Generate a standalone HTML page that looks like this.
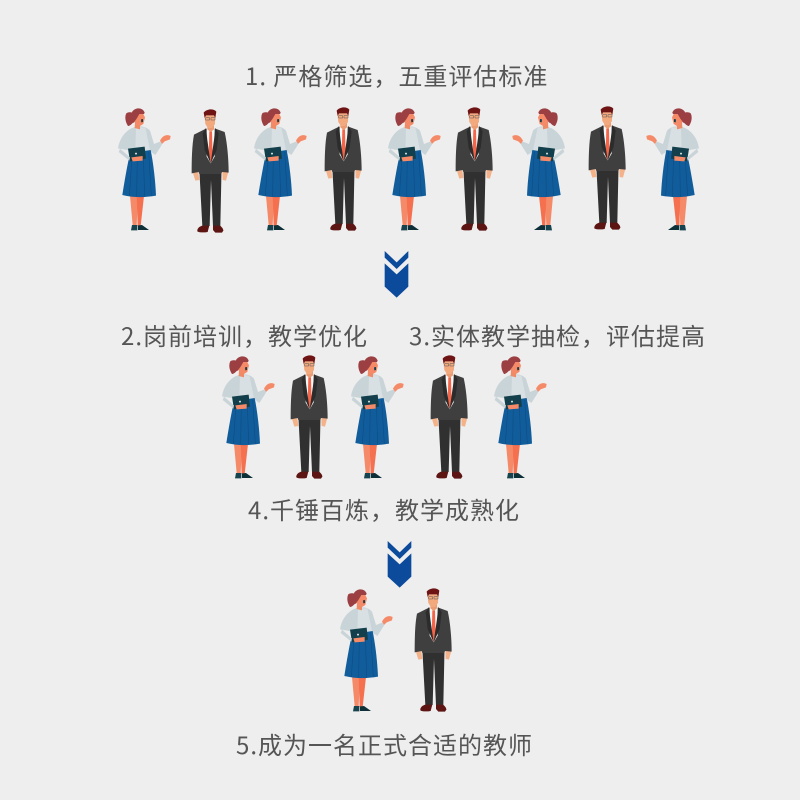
<!DOCTYPE html>
<html><head><meta charset="utf-8">
<style>
html,body{margin:0;padding:0;background:#eeeeee}
#p{position:relative;width:800px;height:800px;overflow:hidden;background:#eeeeee}
.t{position:absolute;white-space:pre;font-size:24px;letter-spacing:1px;line-height:32px;color:#555;font-family:"Noto Sans CJK SC",sans-serif}
svg{position:absolute;left:0;top:0}
</style></head><body><div id="p">
<svg width="800" height="800" viewBox="0 0 800 800">
<defs>
<g id="w" transform="translate(110,100) scale(.3333)">
<path d="M60 288H84L80 375H68Z" fill="#f58a68"/>
<path d="M80 288H102L92 378H83Z" fill="#f4704f"/>
<path d="M66 375H82V391H63Z" fill="#17434f"/>
<path d="M84 376L96 375L117 390H84Z" fill="#0c2f38"/>
<path d="M150 122C158 106 170 102 182 108L180 118L164 124L156 132Z" fill="#f58a68"/>
<path d="M62 86C85 74 108 78 120 92L132 132L152 124L156 134L136 165L118 152H62L24 145C28 118 42 98 62 86Z" fill="#c9d4d8"/>
<path d="M78 82L106 82L120 150H76Z" fill="#d8e0e3"/>
<path d="M60 160L122 150C130 190 136 240 138 287C105 293 70 293 37 285C44 240 52 195 60 160Z" fill="#115d9c"/>
<path d="M66 168L58 288M82 165L80 290M100 160L104 290M116 155L124 288" stroke="#0d4e85" stroke-width="2" fill="none"/>
<path d="M54 146L104 140L108 176L60 184Z" fill="#123f4b"/>
<path d="M64 172L98 168L98 182L68 184Z" fill="#f58a68"/>
<path d="M30 146L60 172L58 182L26 156Z" fill="#c9d4d8"/>
<path d="M48 42C50 36 62 36 68 38L78 60L72 68C68 66 62 78 54 78C46 66 44 52 48 42Z" fill="#9c3f43"/>
<path d="M75 66L90 72L90 88L74 84Z" fill="#ee8a66"/>
<path d="M72 42H100L105 52L100 72L90 78L78 74L72 60Z" fill="#f58a68"/>
<path d="M93 58L99 57L99 66L94 67Z" fill="#123f4b"/>
<path d="M66 36C74 22 98 20 104 38L102 42L88 42L80 56L74 64L68 54Z" fill="#9c3f43"/>
<circle cx="78" cy="161" r="3" fill="#d8e0e3"/>
</g>
<g id="m" transform="translate(110,100) scale(.3333)">
<path d="M248 216H265L268 240L256 242Z" fill="#f4b28a"/>
<path d="M337 216H355L348 242L338 240Z" fill="#f4b28a"/>
<path d="M267 190H335L331 378H309L303 240L299 378H277Z" fill="#303030"/>
<path d="M262 390C264 382 272 378 278 377H298L293 396C282 398 268 398 262 394Z" fill="#5c1512"/>
<path d="M309 377H330C334 380 340 386 340 392L336 398H316L309 390Z" fill="#5c1512"/>
<path d="M252 104L288 86H316L344 96C352 130 356 180 356 218L336 216L334 222H268L266 216L245 220C245 180 246 135 252 104Z" fill="#3f3f3f"/>
<path d="M290 84H314V170L302 190L290 170Z" fill="#f7f7f7"/>
<path d="M298 94H306L308 175L302 188L296 175Z" fill="#f4664a"/>
<path d="M288 84L292 120L302 190L284 150L278 100Z" fill="#2c2c2c"/>
<path d="M316 84L312 120L302 190L320 150L326 100Z" fill="#2c2c2c"/>
<path d="M292 72H312V88L302 96L292 88Z" fill="#ec9c70"/>
<path d="M283 46L316 46L315 72L306 84H294L286 72Z" fill="#f2a97e"/>
<path d="M284 54L281 38C290 26 312 25 319 35L316 54L312 46H288Z" fill="#6e1414"/>
<path d="M287 53H299V60H287ZM303 53H315V60H303Z" fill="none" stroke="#555" stroke-width="1.5"/>
</g>
<g id="a" fill="#0c4a9c" transform="translate(370,245) scale(.3333)">
<path d="M44 18V38L80 72L115 38V18L80 52Z"/>
<path d="M44 55L80 88L115 55V125L80 158L44 125Z"/>
</g>
</defs>
<use href="#w"/>
<use href="#m"/>
<use href="#w" x="136" y="0"/>
<use href="#m" x="133" y="-2"/>
<use href="#w" x="270" y="0"/>
<use href="#m" x="264" y="-2"/>
<g transform="matrix(-1 0 0 1 683 0)"><use href="#w"/></g>
<use href="#m" x="397" y="-3"/>
<g transform="matrix(-1 0 0 1 817 0)"><use href="#w"/></g>
<use href="#a"/>
<use href="#w" x="104" y="248"/>
<use href="#m" x="99" y="246"/>
<use href="#w" x="233" y="248"/>
<use href="#m" x="239" y="246"/>
<use href="#w" x="376" y="248"/>
<use href="#a" x="3" y="290"/>
<use href="#w" x="222" y="481"/>
<use href="#m" x="223" y="479"/>
</svg>
<div class="t" style="left:245px;top:59px">1. 严格筛选，五重评估标准</div>
<div class="t" style="left:121px;top:319px">2.岗前培训，教学优化</div>
<div class="t" style="left:409px;top:319px">3.实体教学抽检，评估提高</div>
<div class="t" style="left:248px;top:493px">4.千锤百炼，教学成熟化</div>
<div class="t" style="left:236px;top:728px">5.成为一名正式合适的教师</div>
</div></body></html>
